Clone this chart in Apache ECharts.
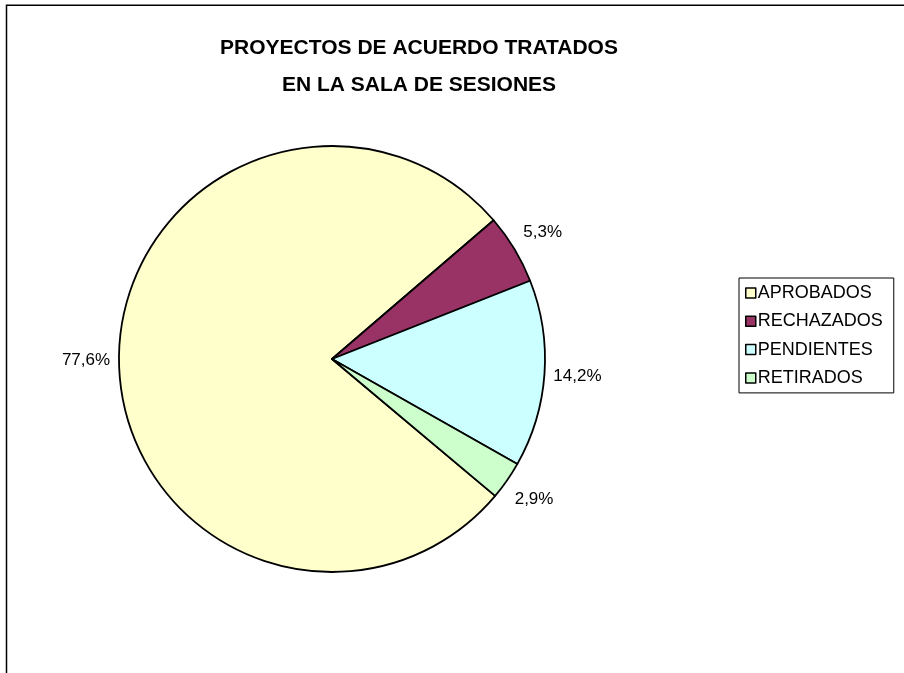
<!DOCTYPE html>
<html>
<head>
<meta charset="utf-8">
<script src="https://cdn.jsdelivr.net/npm/echarts@6/dist/echarts.min.js"></script>
<style>
html,body{margin:0;padding:0;background:#fff;}
#chart{width:904px;height:673px;}
</style>
</head>
<body>
<div id="chart"></div>
<script>
var titleText = 'PROYECTOS DE ACUERDO TRATADOS\nEN LA SALA DE SESIONES';
var categories = ['APROBADOS', 'RECHAZADOS', 'PENDIENTES', 'RETIRADOS'];
var values = [77.6, 5.3, 14.2, 2.9];
var colors = ['#FFFFCC', '#993366', '#CCFFFF', '#CCFFCC'];

var FONT = '"Liberation Sans", Arial, sans-serif';
var chart = echarts.init(document.getElementById('chart'), null, {renderer: 'canvas'});

var pieData = categories.map(function (c, i) {
  return {name: c, value: values[i], itemStyle: {color: colors[i]}};
});
var labelData = categories.map(function (c, i) {
  return {name: c, value: values[i]};
});

function fmt(p) {
  return p.value.toFixed(1).replace('.', ',') + '%';
}

chart.setOption({
  backgroundColor: '#ffffff',
  animation: false,
  title: {
    text: titleText,
    left: 419,
    top: 30,
    padding: 0,
    textAlign: 'center',
    textStyle: {fontFamily: FONT, fontSize: 21, fontWeight: 'bold', color: '#000', lineHeight: 37}
  },
  graphic: [{
    type: 'rect',
    silent: true,
    shape: {x: 6.5, y: 5.2, width: 2000, height: 2000},
    style: {fill: 'none', stroke: '#000', lineWidth: 1.5}
  }],
  legend: {
    data: categories,
    orient: 'vertical',
    left: 739,
    top: 278,
    padding: [6, 11, 6, 6],
    itemGap: 10.3,
    itemWidth: 10,
    itemHeight: 10,
    icon: 'rect',
    borderColor: '#000',
    borderWidth: 1,
    backgroundColor: '#fff',
    selectedMode: false,
    itemStyle: {borderColor: '#000', borderWidth: 1.5},
    textStyle: {fontFamily: FONT, fontSize: 18, color: '#000', lineHeight: 18, padding: [0, 0, 0, -3]}
  },
  series: [{
    type: 'pie',
    name: 'main',
    center: [332, 359],
    radius: 213,
    startAngle: -40,
    clockwise: true,
    silent: true,
    label: {show: false},
    labelLine: {show: false},
    itemStyle: {borderColor: '#000', borderWidth: 1.8},
    emphasis: {disabled: true},
    data: pieData
  }, {
    type: 'pie',
    name: 'labels',
    center: [332, 359],
    radius: [231, 255],
    startAngle: -40,
    clockwise: true,
    silent: true,
    legendHoverLink: false,
    itemStyle: {color: 'rgba(0,0,0,0)', borderWidth: 0},
    label: {show: true, position: 'inside', formatter: fmt,
      fontFamily: FONT, fontSize: 17, color: '#000'},
    labelLine: {show: false},
    emphasis: {disabled: true},
    data: labelData
  }]
});
</script>
</body>
</html>
